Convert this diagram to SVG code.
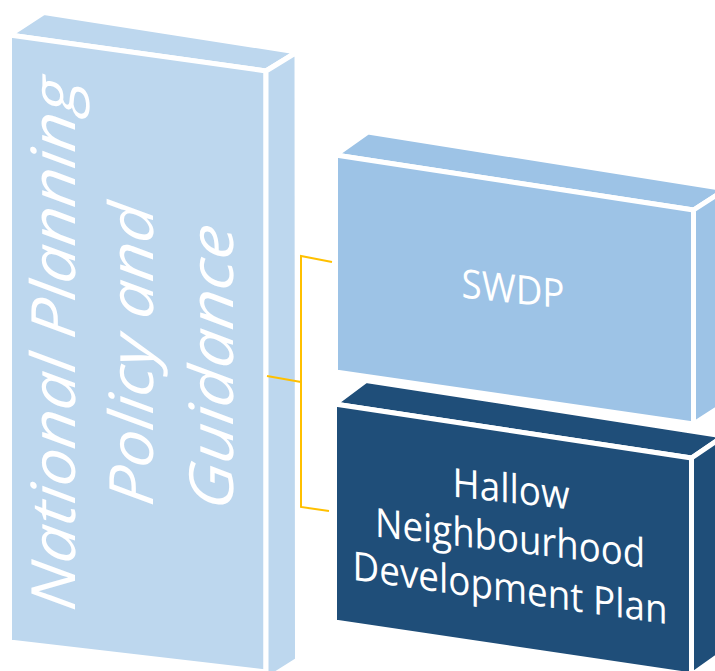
<svg xmlns="http://www.w3.org/2000/svg" width="715" height="671" viewBox="0 0 715 671">
<style>
.face{stroke:#FFFFFF;stroke-width:5;stroke-linejoin:round}
.l1{fill:#BDD7EE}
.l2{fill:#9DC3E6}
.d1{fill:#1F4E79}
.big{font-family:"Open Sans","Liberation Sans",sans-serif;font-style:italic;font-weight:400;font-size:61px;fill:#FFFFFF}
.lbl{font-family:"Open Sans","Liberation Sans",sans-serif;font-size:40px;fill:#FFFFFF}
.conn{fill:none;stroke:#FFC000;stroke-width:2}
</style>
<rect width="715" height="671" fill="#FFFFFF"/>
<g id="national">
<polygon class="face l1" points="9.5,35 44,12.5 297,52 266,71"/>
<polygon class="face l1" points="9.5,35 266,71 266,672 9.5,642"/>
<polygon class="face l1" points="266,71 297,52 297.5,660 266,680"/>
<g transform="skewY(7.7)">
<text class="big" transform="translate(75,336) rotate(-90)" text-anchor="middle" textLength="532" lengthAdjust="spacingAndGlyphs">National Planning</text>
<text class="big" transform="translate(153,336) rotate(-90)" text-anchor="middle" textLength="301" lengthAdjust="spacingAndGlyphs">Policy and</text>
<text class="big" transform="translate(233,338) rotate(-90)" text-anchor="middle" textLength="284" lengthAdjust="spacingAndGlyphs">Guidance</text>
</g>
</g>
<g id="swdp">
<polygon class="face l2" points="335.5,155 368,132 726,189 693.5,210"/>
<polygon class="face l2" points="335.5,155 693.5,210 693.5,424 335.5,372"/>
<polygon class="face l2" points="693.5,210 726,189 726,403 693.5,424"/>
<text class="lbl" transform="translate(513,303) skewY(6)" text-anchor="middle" textLength="103" lengthAdjust="spacingAndGlyphs">SWDP</text>
</g>
<g id="hallow">
<polygon class="face d1" points="334.5,404 366,380.5 724,436 691.5,458"/>
<polygon class="face d1" points="334.5,404 691.5,458 691.5,675 334.5,622"/>
<polygon class="face d1" points="691.5,458 724,436 724,652 691.5,675"/>
<text class="lbl" transform="translate(511,503) skewY(6.3)" text-anchor="middle" textLength="117" lengthAdjust="spacingAndGlyphs">Hallow</text>
<text class="lbl" transform="translate(510,552) skewY(6.6)" text-anchor="middle" textLength="270" lengthAdjust="spacingAndGlyphs">Neighbourhood</text>
<text class="lbl" transform="translate(510,602) skewY(8)" text-anchor="middle" textLength="315" lengthAdjust="spacingAndGlyphs">Development Plan</text>
</g>
<g id="connectors">
<path class="conn" d="M267,376 L301,382"/>
<path class="conn" d="M332,262 L301,256 L301,507 L329,511"/>
</g>
</svg>
